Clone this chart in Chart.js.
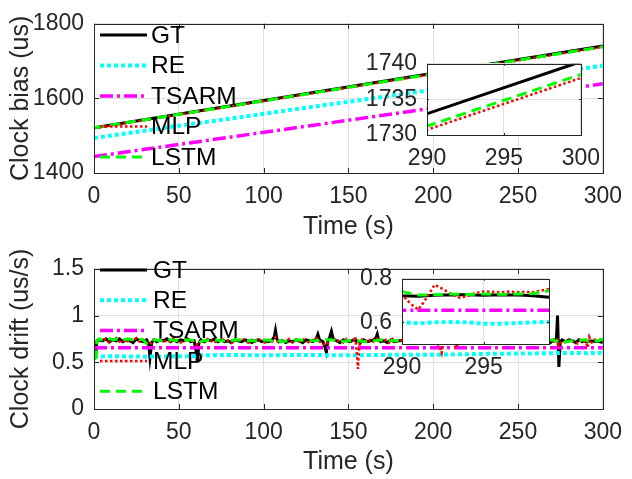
<!DOCTYPE html>
<html>
<head>
<meta charset="utf-8">
<script src="https://cdn.jsdelivr.net/npm/chart.js@4.4.0/dist/chart.umd.min.js"></script>
<style>
    body { margin: 0; background: #fff; }
    #wrap { position: relative; width: 632px; height: 479px; overflow: hidden; }
    #wrap canvas { position: absolute; }
</style>
</head>
<body>
<div id="wrap">
    <canvas id="biasChart" width="632" height="245" style="left:0;top:0"></canvas>
    <canvas id="driftChart" width="632" height="234" style="left:0;top:245px"></canvas>
    <canvas id="biasZoom" width="250" height="140" style="left:360px;top:40px"></canvas>
    <canvas id="driftZoom" width="230" height="130" style="left:340px;top:255px"></canvas>
</div>
<script>
// --- data ---
const seriesNames = ['GT', 'RE', 'TSARM', 'MLP', 'LSTM'];

// clock bias (us): start and end of the run
const biasGT = [[0, 1521], [300, 1740.3]];
const biasRE = [[0, 1494], [300, 1688]];
const biasTSARM = [[0, 1444], [300, 1639]];
const biasMLP = [[0, 1520], [300, 1738]];
const biasLSTM = [[0, 1521], [300, 1738.5]];

// clock drift (us/s)
const driftGT = [
    [0, 0.55], [1, 0.56], [1.6, 0.72], [3, 0.74], [5, 0.73], [7, 0.75], [9, 0.72], [11, 0.74], [13, 0.73], [15, 0.75],
    [17, 0.72], [19, 0.74], [21, 0.73], [23, 0.71], [25, 0.75], [27, 0.73], [29, 0.72], [31, 0.74], [32.2, 0.70], [33, 0.55],
    [34, 0.71], [35.5, 0.74], [37, 0.72], [39, 0.74], [41, 0.73], [43, 0.75], [45, 0.72], [47, 0.74], [49, 0.72], [51, 0.74],
    [53, 0.73], [55, 0.75], [57, 0.72], [59, 0.73], [60.2, 0.62], [61, 0.50], [61.8, 0.70], [63, 0.74], [65, 0.72], [67, 0.74],
    [69, 0.73], [71, 0.75], [73, 0.72], [75, 0.74], [77, 0.72], [79, 0.73], [81, 0.71], [83, 0.74], [85, 0.73], [87, 0.72],
    [89, 0.74], [91, 0.73], [93, 0.71], [95, 0.73], [97, 0.74], [99, 0.72], [101, 0.73], [103, 0.72], [105, 0.74], [106.3, 0.77],
    [107, 0.84], [107.8, 0.75], [109, 0.72], [111, 0.73], [113, 0.71], [115, 0.73], [117, 0.72], [119, 0.74], [121, 0.73], [123, 0.71],
    [125, 0.74], [127, 0.73], [129, 0.72], [131, 0.75], [132, 0.80], [133, 0.74], [135, 0.72], [136.2, 0.66], [137, 0.61], [137.8, 0.72],
    [139, 0.77], [140, 0.83], [141, 0.75], [143, 0.73], [145, 0.71], [147, 0.74], [149, 0.73], [151, 0.72], [153, 0.74], [155, 0.73],
    [157, 0.71], [159, 0.74], [161, 0.72], [163, 0.73], [165, 0.74], [166.2, 0.76], [167, 0.80], [167.8, 0.74], [169, 0.72], [171, 0.73],
    [173, 0.71], [175, 0.74], [177, 0.72], [180, 0.73], [185, 0.74], [190, 0.72], [195, 0.73], [200, 0.74], [205, 0.72], [210, 0.73],
    [215, 0.74], [220, 0.72], [225, 0.73], [230, 0.74], [235, 0.72], [240, 0.73], [245, 0.74], [250, 0.72], [255, 0.73], [260, 0.74],
    [263, 0.72], [265, 0.74], [267, 0.73], [269, 0.71], [271, 0.74], [272.6, 0.73], [273.3, 1.0], [274.1, 0.45], [274.9, 0.72], [276, 0.74],
    [278, 0.72], [280, 0.74], [282, 0.73], [284, 0.71], [286, 0.74], [288, 0.72], [289, 0.73],
    [290, 0.722], [290.5, 0.721], [291, 0.72], [291.5, 0.722], [292, 0.724], [292.5, 0.725], [293, 0.726], [293.5, 0.727], [294, 0.727], [294.5, 0.725],
    [295, 0.724], [295.5, 0.725], [296, 0.726], [296.5, 0.726], [297, 0.725], [297.5, 0.724], [298, 0.722], [298.5, 0.719], [299, 0.715], [300, 0.712]
];
const driftRE = [
    [0, 0.56], [10, 0.565], [30, 0.56], [50, 0.565], [59, 0.565], [62, 0.575], [80, 0.578], [100, 0.575], [120, 0.578], [150, 0.575],
    [180, 0.58], [200, 0.58], [230, 0.59], [260, 0.595], [280, 0.60], [290, 0.60], [291, 0.595], [292, 0.60], [293, 0.601], [294, 0.60],
    [295, 0.593], [296, 0.593], [297, 0.596], [298, 0.60], [299, 0.601], [300, 0.60]
];
const driftTSARM = [[0, 0.655], [300, 0.655]];
const driftMLP = [
    [0, 0.72], [1, 0.70], [2, 0.74], [3, 0.76], [5, 0.73], [7, 0.75], [9, 0.71], [11, 0.74], [13, 0.76], [15, 0.72],
    [17, 0.74], [19, 0.71], [21, 0.75], [23, 0.73], [25, 0.76], [27, 0.72], [29, 0.74], [31, 0.71], [33, 0.69], [35, 0.74],
    [37, 0.72], [39, 0.75], [41, 0.71], [43, 0.74], [45, 0.72], [47, 0.76], [49, 0.73], [51, 0.71], [53, 0.74], [55, 0.72],
    [57, 0.75], [59, 0.71], [61, 0.68], [63, 0.74], [65, 0.72], [67, 0.75], [69, 0.73], [71, 0.71], [73, 0.74], [75, 0.72],
    [77, 0.75], [79, 0.73], [81, 0.71], [83, 0.74], [85, 0.72], [87, 0.76], [89, 0.73], [91, 0.71], [93, 0.74], [95, 0.72],
    [97, 0.75], [99, 0.73], [101, 0.71], [103, 0.74], [105, 0.72], [107, 0.77], [109, 0.70], [111, 0.74], [113, 0.72], [115, 0.75],
    [117, 0.71], [119, 0.74], [121, 0.72], [123, 0.75], [125, 0.73], [127, 0.71], [129, 0.74], [131, 0.76], [133, 0.72], [135, 0.70],
    [137, 0.68], [139, 0.74], [141, 0.76], [143, 0.72], [145, 0.74], [147, 0.71], [149, 0.75], [151, 0.73], [153, 0.72], [154, 0.77],
    [155, 0.60], [155.6, 0.43], [156.4, 0.68], [158, 0.74], [160, 0.72], [162, 0.75], [164, 0.71], [166, 0.74], [168, 0.76], [170, 0.72],
    [172, 0.74], [174, 0.71], [176, 0.75], [178, 0.72], [182, 0.74], [186, 0.72], [190, 0.75], [194, 0.72], [198, 0.74], [202, 0.71],
    [204, 0.66], [205, 0.60], [206, 0.70], [209, 0.74], [212, 0.70], [213.5, 0.65], [215, 0.72], [220, 0.74], [225, 0.72], [230, 0.75],
    [235, 0.72], [240, 0.74], [245, 0.72], [250, 0.75], [255, 0.72], [260, 0.74], [264, 0.72], [266, 0.75], [268, 0.72], [270, 0.74],
    [272, 0.70], [273, 0.76], [274, 0.68], [275, 0.71], [277, 0.70], [279, 0.74], [281, 0.71], [283, 0.73], [285, 0.70], [287, 0.74],
    [289, 0.72],
    [290, 0.727], [290.5, 0.687], [291, 0.658], [291.4, 0.70], [292, 0.773], [292.5, 0.753], [293.1, 0.726], [293.5, 0.713], [294, 0.72], [294.5, 0.735],
    [295, 0.742], [295.5, 0.74], [296, 0.738], [296.5, 0.741], [297, 0.739], [297.5, 0.74], [298, 0.738], [298.5, 0.745], [299, 0.753], [300, 0.75]
];
const driftLSTM = [
    [0, 0.53], [1.2, 0.55], [1.8, 0.73], [3, 0.75], [5, 0.74], [8, 0.76], [11, 0.74], [14, 0.75], [17, 0.74], [20, 0.75],
    [23, 0.74], [26, 0.75], [29, 0.74], [31, 0.70], [32.5, 0.73], [35, 0.74], [40, 0.73], [45, 0.74], [50, 0.73], [55, 0.74],
    [60, 0.73], [62, 0.71], [64, 0.73], [70, 0.74], [75, 0.73], [80, 0.73], [85, 0.74], [90, 0.73], [95, 0.73], [100, 0.74],
    [105, 0.73], [108, 0.75], [110, 0.72], [115, 0.73], [120, 0.74], [125, 0.73], [130, 0.73], [135, 0.74], [140, 0.74], [145, 0.72],
    [150, 0.73], [155, 0.73], [160, 0.72], [165, 0.73], [170, 0.74], [175, 0.73], [180, 0.73], [190, 0.74], [200, 0.73], [210, 0.73],
    [220, 0.74], [230, 0.73], [240, 0.73], [250, 0.74], [260, 0.73], [265, 0.73], [270, 0.74], [274, 0.72], [276, 0.70], [278, 0.72],
    [282, 0.73], [286, 0.73], [289, 0.74],
    [290, 0.742], [290.5, 0.733], [291, 0.725], [291.5, 0.725], [292, 0.727], [293, 0.73], [294, 0.728], [295, 0.73], [296, 0.729], [297, 0.73],
    [298, 0.732], [298.5, 0.738], [299, 0.745], [300, 0.75]
];

// tick labels
const timeTicks = [0, 50, 100, 150, 200, 250, 300];
const biasTicks = [1400, 1600, 1800];
const driftTicks = [0, 0.5, 1, 1.5];
const biasZoomTimeTicks = [290, 295, 300];
const biasZoomTicks = [1730, 1735, 1740];
const driftZoomTimeTicks = [290, 295];
const driftZoomTicks = [0.6, 0.8];

// --- styles ---
const FONT = '"Liberation Sans", Arial, sans-serif';
const INK = '#262626';
const lineStyles = [
    { color: '#000000', width: 3, dash: [] },
    { color: '#00ffff', width: 4, dash: [4, 3] },
    { color: '#ff00ff', width: 3.5, dash: [13, 4, 3, 4] },
    { color: '#ff0000', width: 2.5, dash: [2.5, 2.5] },
    { color: '#00ff00', width: 3, dash: [10, 6] }
];

// box round the axes, ticks pointing in, white background for the insets
const boxPlugin = {
    id: 'matlabBox',
    beforeDraw(chart, args, opts) {
        if (!opts.fill) return;
        const a = chart.chartArea;
        chart.ctx.save();
        chart.ctx.fillStyle = '#fff';
        chart.ctx.fillRect(a.left, a.top, a.right - a.left, a.bottom - a.top);
        chart.ctx.restore();
    },
    afterDatasetsDraw(chart, args, opts) {
        const { ctx, chartArea: a, scales: { x, y } } = chart;
        const len = opts.tick;
        ctx.save();
        ctx.strokeStyle = INK;
        ctx.lineWidth = 1;
        ctx.beginPath();
        x.ticks.forEach(t => {
            const px = Math.round(x.getPixelForValue(t.value)) + 0.5;
            ctx.moveTo(px, a.bottom); ctx.lineTo(px, a.bottom - len);
            ctx.moveTo(px, a.top); ctx.lineTo(px, a.top + len);
        });
        y.ticks.forEach(t => {
            const py = Math.round(y.getPixelForValue(t.value)) + 0.5;
            ctx.moveTo(a.left, py); ctx.lineTo(a.left + len, py);
            ctx.moveTo(a.right, py); ctx.lineTo(a.right - len, py);
        });
        ctx.stroke();
        ctx.strokeRect(Math.round(a.left) + 0.5, Math.round(a.top) + 0.5,
            Math.round(a.right - a.left), Math.round(a.bottom - a.top));
        ctx.restore();
    }
};

// legend without box, like "legend boxoff"
const legendPlugin = {
    id: 'matlabLegend',
    afterDraw(chart, args, opts) {
        const ctx = chart.ctx;
        ctx.save();
        ctx.font = '24.5px ' + FONT;
        ctx.textBaseline = 'middle';
        chart.data.datasets.forEach((ds, i) => {
            const yy = opts.top + i * opts.step;
            ctx.strokeStyle = ds.borderColor;
            ctx.lineWidth = ds.borderWidth;
            ctx.setLineDash(ds.borderDash);
            ctx.beginPath();
            ctx.moveTo(opts.x0, yy);
            ctx.lineTo(opts.x1, yy);
            ctx.stroke();
            ctx.fillStyle = '#000';
            ctx.fillText(ds.label, opts.textX, yy + 1);
        });
        ctx.restore();
    }
};

function axis(min, max, ticks, size, title, titlePad, horizontal) {
    return {
        type: 'linear',
        min: min,
        max: max,
        afterBuildTicks: s => { s.ticks = ticks.map(v => ({ value: v })); },
        afterFit: s => { if (horizontal) s.height = size; else s.width = size; },
        grid: { color: '#dfdfdf', lineWidth: 1, drawTicks: false },
        border: { display: false },
        ticks: {
            autoSkip: false, maxRotation: 0, padding: 10, color: INK,
            font: { family: FONT, size: 23 },
            callback: v => String(v)
        },
        title: {
            display: !!title, text: title, color: INK,
            font: { family: FONT, size: 25 },
            padding: titlePad
        }
    };
}

function makeChart(id, series, opt) {
    return new Chart(document.getElementById(id), {
        type: 'line',
        data: {
            datasets: series.map((s, i) => ({
                label: seriesNames[i],
                data: s.map(p => ({ x: p[0], y: p[1] })),
                borderColor: lineStyles[i].color,
                borderWidth: lineStyles[i].width,
                borderDash: lineStyles[i].dash,
                pointRadius: 0,
                tension: 0,
                fill: false,
                order: series.length - i
            }))
        },
        options: {
            responsive: false,
            animation: false,
            devicePixelRatio: 1,
            events: [],
            layout: { padding: opt.padding, autoPadding: false },
            plugins: {
                legend: { display: false },
                tooltip: { enabled: false },
                matlabLegend: opt.legend || false,
                matlabBox: { tick: opt.tick, fill: opt.fill }
            },
            scales: { x: opt.x, y: opt.y }
        },
        plugins: [boxPlugin, legendPlugin]
    });
}

// top: clock bias
makeChart('biasChart', [biasGT, biasRE, biasTSARM, biasMLP, biasLSTM], {
    padding: { left: 0, top: 19, right: 21, bottom: 0 },
    x: axis(0, 300, timeTicks, 72, 'Time (s)', { top: 0, bottom: 2.5 }, true),
    y: axis(1400, 1800, biasTicks, 94, 'Clock bias (us)', { top: 6, bottom: 0 }, false),
    legend: { x0: 100, x1: 147, textX: 151, top: 35, step: 30.5 },
    tick: 5
});

// bottom: clock drift
makeChart('driftChart', [driftGT, driftRE, driftTSARM, driftMLP, driftLSTM], {
    padding: { left: 0, top: 12, right: 21, bottom: 0 },
    x: axis(0, 300, timeTicks, 70, 'Time (s)', { top: 0, bottom: 1.5 }, true),
    y: axis(0, 1.5, driftTicks, 94, 'Clock drift (us/s)', { top: 6, bottom: 0 }, false),
    legend: { x0: 100, x1: 147, textX: 153, top: 25, step: 30.3 },
    tick: 5
});

// inset of the last 10 s of clock bias
makeChart('biasZoom', [biasGT, biasRE, biasTSARM, biasMLP, biasLSTM], {
    padding: { left: 0, top: 17, right: 24, bottom: 0 },
    x: axis(290, 300, biasZoomTimeTicks, 45, '', 0, true),
    y: axis(1730, 1740, biasZoomTicks, 67, '', 0, false),
    tick: 2,
    fill: true
});

// inset of the last seconds of clock drift
makeChart('driftZoom', [driftGT, driftRE, driftTSARM, driftMLP, driftLSTM], {
    padding: { left: 0, top: 13, right: 21, bottom: 0 },
    x: axis(290, 299, driftZoomTimeTicks, 41, '', 0, true),
    y: axis(0.5, 0.8, driftZoomTicks, 62, '', 0, false),
    tick: 2,
    fill: true
});
</script>
</body>
</html>
